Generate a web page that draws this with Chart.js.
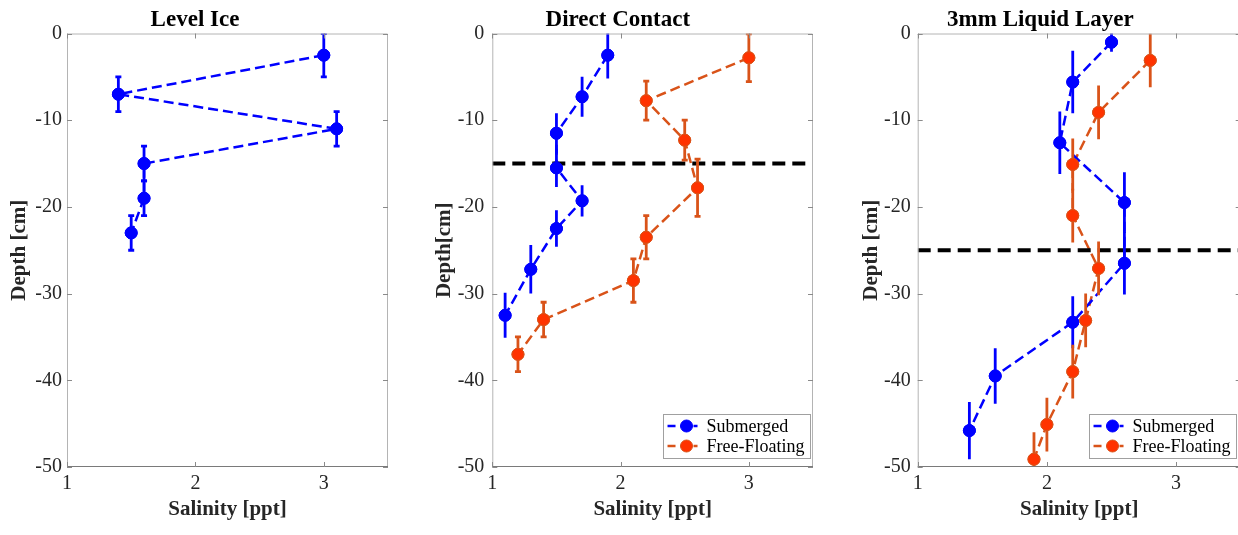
<!DOCTYPE html>
<html>
<head>
<meta charset="utf-8">
<script src="https://cdn.jsdelivr.net/npm/chart.js@4/dist/chart.umd.min.js"></script>
<style>
  html, body { margin: 0; padding: 0; background: #ffffff; overflow: hidden; }
  #wrap { position: relative; width: 1238px; height: 535px; overflow: hidden; background: #fff; }
  canvas { position: absolute; top: 0; }
</style>
</head>
<body>
<div id="wrap"></div>
<script>
// ---------------- DATA ----------------
const X_TICKS = [1, 2, 3];
const Y_TICKS = [0, -10, -20, -30, -40, -50];
const X_MIN = 1, X_MAX = 3.5, Y_MIN = -50, Y_MAX = 0;

const TITLES = ['Level Ice', 'Direct Contact', '3mm Liquid Layer'];
const Y_LABELS = ['Depth [cm]', 'Depth[cm]', 'Depth [cm]'];
const X_LABEL = 'Salinity [ppt]';
const SERIES_NAMES = ['Submerged', 'Free-Floating'];

// Level Ice
const LI_SAL   = [3.0, 1.4, 3.1, 1.6, 1.6, 1.5];
const LI_DEPTH = [-2.5, -7.0, -11.0, -15.0, -19.0, -23.0];
const LI_ERR   = [2.5, 2.0, 2.0, 2.0, 2.0, 2.0];

// Direct Contact
const DC_SUB_SAL   = [1.9, 1.7, 1.5, 1.5, 1.7, 1.5, 1.3, 1.1];
const DC_SUB_DEPTH = [-2.5, -7.3, -11.5, -15.5, -19.3, -22.5, -27.2, -32.5];
const DC_SUB_ERR   = [2.7, 2.3, 2.3, 2.2, 1.8, 2.1, 2.8, 2.6];
const DC_FF_SAL    = [3.0, 2.2, 2.5, 2.6, 2.2, 2.1, 1.4, 1.2];
const DC_FF_DEPTH  = [-2.8, -7.75, -12.3, -17.8, -23.5, -28.5, -33.0, -37.0];
const DC_FF_ERR    = [2.75, 2.25, 2.3, 3.3, 2.5, 2.5, 2.0, 2.0];
const DC_LINE_DEPTH = -15;

// 3mm Liquid Layer
const LL_SUB_SAL   = [2.5, 2.2, 2.1, 2.6, 2.6, 2.2, 1.6, 1.4];
const LL_SUB_DEPTH = [-1.0, -5.6, -12.6, -19.5, -26.5, -33.3, -39.5, -45.8];
const LL_SUB_ERR   = [1.1, 3.6, 3.6, 3.5, 3.6, 3.0, 3.2, 3.3];
const LL_FF_SAL    = [2.8, 2.4, 2.2, 2.2, 2.4, 2.3, 2.2, 2.0, 1.9];
const LL_FF_DEPTH  = [-3.1, -9.1, -15.1, -21.0, -27.1, -33.1, -39.0, -45.1, -49.1];
const LL_FF_ERR    = [3.1, 3.1, 3.0, 3.1, 3.1, 3.1, 3.1, 3.1, 3.1];
const LL_LINE_DEPTH = -25;

// ---------------- STYLE ----------------
const FONT = '"Liberation Serif", "Times New Roman", serif';
const BLUE = '#0000FF';
const ORANGE = '#D95319';
const ORANGE_FILL = '#FF3300';

function pts(xs, ys) { return xs.map((x, i) => ({ x: x, y: ys[i] })); }

function seriesDS(label, xs, ys, errs, color, fill, cap, inLegend) {
  return {
    label: label,
    data: pts(xs, ys),
    errors: errs,
    capWidth: cap,
    inLegend: inLegend,
    borderColor: color,
    backgroundColor: fill,
    borderWidth: 2.5,
    borderDash: [10, 5],
    pointRadius: 6,
    pointBorderWidth: 1,
    pointBorderColor: color,
    pointBackgroundColor: fill,
    showLine: true,
    tension: 0,
    clip: 0
  };
}
function hLineDS(depth) {
  return {
    label: 'interface',
    data: [{ x: X_MIN, y: depth }, { x: X_MAX, y: depth }],
    borderColor: '#000000',
    borderWidth: 4,
    borderDash: [13, 7],
    pointRadius: 0,
    showLine: true,
    inLegend: false
  };
}

// error bar plugin
const errorBars = {
  id: 'errorBars',
  afterDatasetsDraw(chart) {
    const ctx = chart.ctx, xs = chart.scales.x, ys = chart.scales.y, a = chart.chartArea;
    ctx.save();
    ctx.beginPath();
    ctx.rect(a.left, a.top, a.right - a.left, a.bottom - a.top);
    ctx.clip();
    chart.data.datasets.forEach(ds => {
      if (!ds.errors) return;
      ctx.strokeStyle = ds.borderColor;
      ctx.lineWidth = 2.8;
      ctx.setLineDash([]);
      ds.data.forEach((p, i) => {
        const e = ds.errors[i];
        const px = xs.getPixelForValue(p.x);
        const y1 = ys.getPixelForValue(p.y + e);
        const y2 = ys.getPixelForValue(p.y - e);
        ctx.beginPath();
        ctx.moveTo(px, y1); ctx.lineTo(px, y2);
        if (ds.capWidth) {
          ctx.moveTo(px - ds.capWidth / 2, y1); ctx.lineTo(px + ds.capWidth / 2, y1);
          ctx.moveTo(px - ds.capWidth / 2, y2); ctx.lineTo(px + ds.capWidth / 2, y2);
        }
        ctx.stroke();
      });
      ds.data.forEach(p => {
        const px = xs.getPixelForValue(p.x), py = ys.getPixelForValue(p.y);
        ctx.beginPath();
        ctx.arc(px, py, ds.pointRadius, 0, Math.PI * 2);
        ctx.fillStyle = ds.pointBackgroundColor;
        ctx.fill();
        ctx.lineWidth = ds.pointBorderWidth;
        ctx.strokeStyle = ds.pointBorderColor;
        ctx.stroke();
      });
    });
    ctx.restore();
  }
};

// box + inward ticks plugin
const boxTicks = {
  id: 'boxTicks',
  afterDraw(chart) {
    const ctx = chart.ctx, a = chart.chartArea, xs = chart.scales.x, ys = chart.scales.y;
    const L = 5;
    ctx.save();
    ctx.setLineDash([]);
    ctx.lineWidth = 1;
    ctx.strokeStyle = '#b4b4b4';
    ctx.beginPath();
    ctx.moveTo(a.left + 0.5, a.bottom); ctx.lineTo(a.left + 0.5, a.top + 0.5);
    ctx.lineTo(a.right - 0.5, a.top + 0.5); ctx.lineTo(a.right - 0.5, a.bottom);
    ctx.stroke();
    ctx.strokeStyle = '#7a7a7a';
    ctx.beginPath();
    ctx.moveTo(a.left, a.bottom - 0.5); ctx.lineTo(a.right, a.bottom - 0.5);
    ctx.stroke();
    ctx.strokeStyle = '#8a8a8a';
    ctx.beginPath();
    X_TICKS.forEach(v => {
      const px = Math.round(xs.getPixelForValue(v)) + 0.5;
      ctx.moveTo(px, a.bottom); ctx.lineTo(px, a.bottom - L);
      ctx.moveTo(px, a.top); ctx.lineTo(px, a.top + L);
    });
    Y_TICKS.forEach(v => {
      const py = Math.round(ys.getPixelForValue(v)) + 0.5;
      ctx.moveTo(a.left, py); ctx.lineTo(a.left + L, py);
      ctx.moveTo(a.right, py); ctx.lineTo(a.right - L, py);
    });
    ctx.stroke();
    ctx.restore();
  }
};

// legend inside plot (bottom-right)
const insideLegend = {
  id: 'insideLegend',
  afterDraw(chart) {
    const items = chart.data.datasets.filter(d => d.inLegend);
    if (!items.length) return;
    const ctx = chart.ctx, a = chart.chartArea;
    ctx.save();
    ctx.font = '18px ' + FONT;
    const tw = Math.max(...items.map(d => ctx.measureText(d.label).width));
    const w = 44 + tw + 5, rowH = 20, h = items.length * rowH + 4;
    const bx = chart.options.legendRight - w, by = a.bottom - 9 - h;
    ctx.fillStyle = '#ffffff';
    ctx.fillRect(bx, by, w, h);
    ctx.strokeStyle = '#a0a0a0';
    ctx.lineWidth = 1;
    ctx.strokeRect(Math.round(bx) + 0.5, Math.round(by) + 0.5, Math.round(w), Math.round(h));
    items.forEach((d, i) => {
      const cy = by + 12 + i * rowH;
      ctx.strokeStyle = d.borderColor;
      ctx.lineWidth = 2.5;
      ctx.setLineDash([8, 5]);
      ctx.beginPath();
      ctx.moveTo(bx + 5, cy); ctx.lineTo(bx + 35, cy);
      ctx.stroke();
      ctx.setLineDash([]);
      ctx.beginPath();
      ctx.arc(bx + 24, cy, 6, 0, Math.PI * 2);
      ctx.fillStyle = d.pointBackgroundColor;
      ctx.fill();
      ctx.lineWidth = 1;
      ctx.strokeStyle = d.pointBorderColor;
      ctx.stroke();
      ctx.fillStyle = '#000000';
      ctx.textBaseline = 'middle';
      ctx.textAlign = 'left';
      ctx.fillText(d.label, bx + 44, cy + 1);
    });
    ctx.restore();
  }
};

function makePanel(cfg) {
  const c = document.createElement('canvas');
  c.width = cfg.w; c.height = 535;
  c.style.left = cfg.left + 'px';
  c.style.width = cfg.w + 'px'; c.style.height = '535px';
  document.getElementById('wrap').appendChild(c);
  return new Chart(c.getContext('2d'), {
    type: 'scatter',
    data: { datasets: cfg.datasets },
    options: {
      responsive: false,
      animation: false,
      devicePixelRatio: 1,
      legendRight: cfg.legendRight,
      layout: { padding: { left: 0, top: 0, bottom: 0, right: cfg.padR } },
      plugins: {
        legend: { display: false },
        tooltip: { enabled: false },
        title: {
          display: true,
          text: cfg.title,
          color: '#000000',
          font: { family: FONT, size: 23, weight: 'bold', lineHeight: 1.1 },
          padding: { top: 7, bottom: 1.2 }
        }
      },
      scales: {
        x: {
          type: 'linear', min: X_MIN, max: X_MAX,
          afterBuildTicks(s) { s.ticks = X_TICKS.map(v => ({ value: v })); },
          afterFit(s) { s.height = 68; },
          grid: { display: false, drawTicks: false },
          border: { display: false },
          ticks: { color: '#262626', font: { family: FONT, size: 20 }, padding: 5, maxRotation: 0, autoSkip: false },
          title: { display: true, text: X_LABEL, color: '#262626',
                   font: { family: FONT, size: 21, weight: 'bold' }, padding: { top: 0, bottom: 13 } }
        },
        y: {
          type: 'linear', min: Y_MIN, max: Y_MAX,
          afterBuildTicks(s) { s.ticks = Y_TICKS.map(v => ({ value: v })); },
          afterFit(s) { s.width = cfg.yw; },
          grid: { display: false, drawTicks: false },
          border: { display: false },
          ticks: { color: '#262626', font: { family: FONT, size: 20 }, padding: cfg.tickPad, autoSkip: false },
          title: { display: true, text: cfg.ylabel, color: '#262626',
                   font: { family: FONT, size: 21, weight: 'bold' }, padding: { top: cfg.titlePad, bottom: 0 } }
        }
      }
    },
    plugins: [errorBars, boxTicks, insideLegend]
  });
}

makePanel({
  left: 0, w: 395, yw: 67, padR: 5, tickPad: 5, titlePad: 7, title: TITLES[0], ylabel: Y_LABELS[0],
  legendRight: 384,
  datasets: [seriesDS(SERIES_NAMES[0], LI_SAL, LI_DEPTH, LI_ERR, BLUE, BLUE, 6, false)]
});
makePanel({
  left: 420, w: 400, yw: 72.3, padR: 4.3, tickPad: 8, titlePad: 12, title: TITLES[1], ylabel: Y_LABELS[1],
  legendRight: 389.5,
  datasets: [
    hLineDS(DC_LINE_DEPTH),
    seriesDS(SERIES_NAMES[0], DC_SUB_SAL, DC_SUB_DEPTH, DC_SUB_ERR, BLUE, BLUE, 0, true),
    seriesDS(SERIES_NAMES[1], DC_FF_SAL, DC_FF_DEPTH, DC_FF_ERR, ORANGE, ORANGE_FILL, 6, true)
  ]
});
makePanel({
  left: 840, w: 412, yw: 77.7, padR: 11.3, tickPad: 7, titlePad: 19, title: TITLES[2], ylabel: Y_LABELS[2],
  legendRight: 395.5,
  datasets: [
    hLineDS(LL_LINE_DEPTH),
    seriesDS(SERIES_NAMES[0], LL_SUB_SAL, LL_SUB_DEPTH, LL_SUB_ERR, BLUE, BLUE, 0, true),
    seriesDS(SERIES_NAMES[1], LL_FF_SAL, LL_FF_DEPTH, LL_FF_ERR, ORANGE, ORANGE_FILL, 0, true)
  ]
});
</script>
</body>
</html>
